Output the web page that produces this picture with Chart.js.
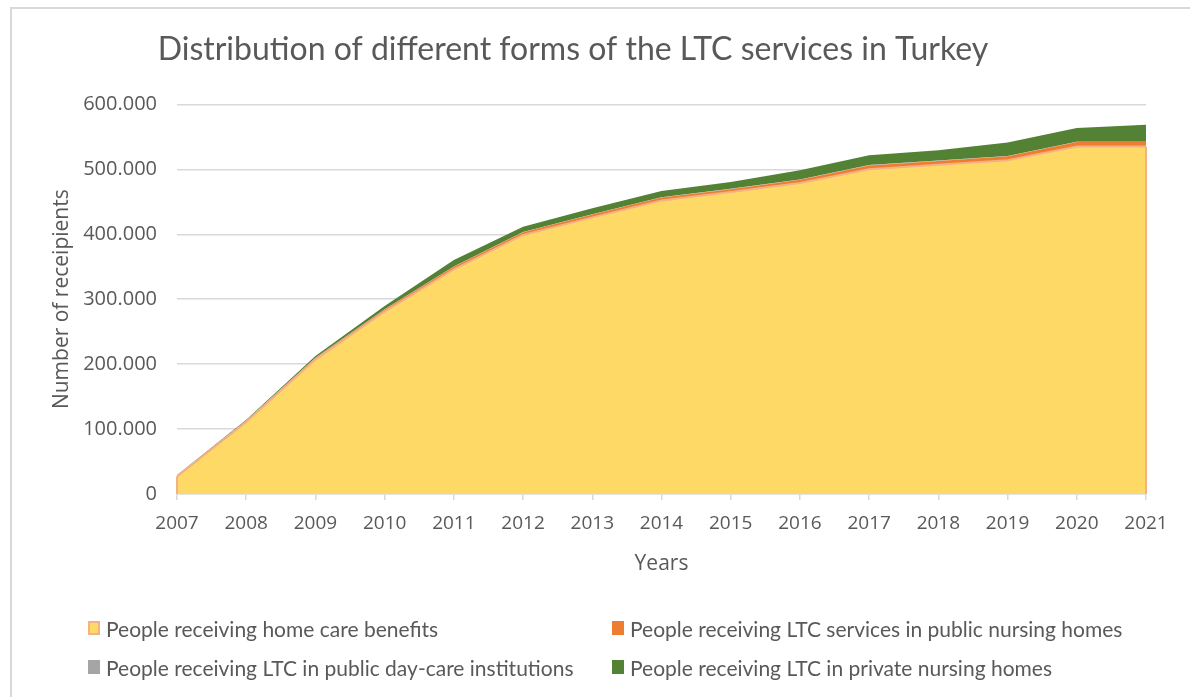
<!DOCTYPE html>
<html>
<head>
<meta charset="utf-8">
<title>LTC services in Turkey</title>
<script src="https://cdn.jsdelivr.net/npm/chart.js@4.4.1/dist/chart.umd.min.js"></script>
<style>
  html, body { margin: 0; padding: 0; background: #fff; }
  #wrap { position: relative; width: 1190px; height: 697px; overflow: hidden; }
  #frame { position: absolute; left: 10px; top: 7px; right: -5px; bottom: -5px;
           border-left: 2px solid #d9d9d9; border-top: 2px solid #d9d9d9; }
  #chart { position: absolute; left: 0; top: 0; }
  #legend { position: absolute; left: 0; top: 0; width: 1190px; height: 697px;
            font-family: Lato, sans-serif; font-size: 21px; color: #595959; }
  .item { position: absolute; height: 24px; display: flex; align-items: center; white-space: nowrap; }
  .swatch { width: 12px; height: 14px; margin-right: 6px; box-sizing: border-box; }
</style>
</head>
<body>
<div id="wrap">
  <div id="frame"></div>
  <canvas id="chart" width="1190" height="697"></canvas>
  <div id="legend"></div>
</div>
<script>
const years = ['2007', '2008', '2009', '2010', '2011', '2012', '2013', '2014',
  '2015', '2016', '2017', '2018', '2019', '2020', '2021'];

// values (number of recipients)
const homeCare = [27000, 111000, 207000, 281000, 346000, 399000, 426000, 452000,
  465000, 479000, 500000, 507000, 514000, 535000, 535000];
const publicNursing = [1500, 2000, 2500, 3000, 4000, 4000, 4500, 4500,
  4500, 5000, 6000, 6000, 6000, 7000, 7000];
const dayCare = [200, 300, 400, 500, 500, 500, 500, 500,
  500, 500, 500, 500, 500, 500, 500];
const privateNursing = [500, 1000, 2500, 5000, 10000, 8000, 9000, 9500,
  10500, 14000, 15000, 16000, 21000, 21000, 26000];

const seriesLabels = [
  'People receiving home care benefits',
  'People receiving LTC services in public nursing homes',
  'People receiving LTC in public day-care institutions',
  'People receiving LTC in private nursing homes',
];

const textColor = '#595959';
const gridColor = '#d9d9d9';

function formatThousands(value) {
  return String(value).replace(/\B(?=(\d{3})+(?!\d))/g, '.');
}

function areaSet(label, data, fill, color, border, borderWidth) {
  return {
    label,
    data,
    fill,
    backgroundColor: color,
    borderColor: border,
    borderWidth,
    pointRadius: 0,
    tension: 0,
  };
}

// closes the first area with its border on the left and right edges, like the original
const areaEdges = {
  id: 'areaEdges',
  afterDatasetsDraw(chart) {
    const ds = chart.data.datasets[0];
    const meta = chart.getDatasetMeta(0);
    const y = chart.scales.y;
    const ctx = chart.ctx;
    const last = ds.data.length - 1;
    ctx.save();
    ctx.strokeStyle = ds.borderColor;
    ctx.lineWidth = 2;
    [0, last].forEach((i) => {
      const pt = meta.data[i];
      ctx.beginPath();
      ctx.moveTo(pt.x, y.getPixelForValue(0));
      ctx.lineTo(pt.x, pt.y);
      ctx.stroke();
    });
    ctx.restore();
  },
};

function drawChart() {
  const chart = new Chart(document.getElementById('chart'), {
    type: 'line',
    data: {
      labels: years,
      datasets: [
        areaSet(seriesLabels[0], homeCare, 'origin', '#FFD966', '#F4B183', 2),
        areaSet(seriesLabels[1], publicNursing, '-1', '#ED7D31', '#ED7D31', 0),
        areaSet(seriesLabels[2], dayCare, '-1', '#A5A5A5', '#A5A5A5', 0),
        areaSet(seriesLabels[3], privateNursing, '-1', '#548235', '#548235', 0),
      ],
    },
    plugins: [areaEdges],
    options: {
      responsive: false,
      animation: false,
      layout: { padding: { left: 0, right: 44, top: 0, bottom: 120 } },
      plugins: {
        legend: { display: false },
        tooltip: { enabled: false },
        title: {
          display: true,
          text: 'Distribution of different forms of the LTC services in Turkey',
          color: textColor,
          font: { family: 'Lato', size: 32, weight: 'normal' },
          padding: { top: 30, bottom: 36 },
          align: 'center',
        },
      },
      scales: {
        x: {
          offset: false,
          grid: { drawOnChartArea: false, drawTicks: true, tickLength: 6, color: gridColor, lineWidth: 1.5 },
          border: { color: gridColor, width: 1.5 },
          ticks: { color: textColor, font: { family: 'Open Sans', size: 19 }, padding: 12, maxRotation: 0 },
          title: {
            display: true,
            text: 'Years',
            color: textColor,
            font: { family: 'Open Sans', size: 21 },
            padding: { top: 5, bottom: 0 },
          },
        },
        y: {
          stacked: true,
          min: 0,
          max: 600000,
          grid: { color: gridColor, lineWidth: 1.5, drawTicks: false },
          border: { display: false },
          ticks: {
            stepSize: 100000,
            color: textColor,
            font: { family: 'Open Sans', size: 20 },
            padding: 20,
            callback: (value) => formatThousands(value),
          },
          title: {
            display: true,
            text: 'Number of receipients',
            color: textColor,
            font: { family: 'Open Sans', size: 21 },
            padding: { top: 49, bottom: 0 },
          },
          afterFit: (scale) => { scale.width = 177; },
        },
      },
    },
  });

  // two-column legend under the chart, built from the chart's datasets
  const legendBox = document.getElementById('legend');
  const legendCols = [88, 612];
  const legendRows = [628, 667];

  chart.data.datasets.forEach((ds, i) => {
    const item = document.createElement('div');
    item.className = 'item';
    item.style.left = legendCols[i % 2] + 'px';
    item.style.top = (legendRows[Math.floor(i / 2)] - 12) + 'px';

    const swatch = document.createElement('span');
    swatch.className = 'swatch';
    swatch.style.background = ds.backgroundColor;
    if (ds.borderWidth) {
      swatch.style.border = '2px solid ' + ds.borderColor;
    }

    const text = document.createElement('span');
    text.textContent = ds.label;

    item.appendChild(swatch);
    item.appendChild(text);
    legendBox.appendChild(item);
  });
}

Promise.all([
  document.fonts.load('20px "Open Sans"'),
  document.fonts.load('20px Lato'),
]).then(drawChart, drawChart);
</script>
</body>
</html>
